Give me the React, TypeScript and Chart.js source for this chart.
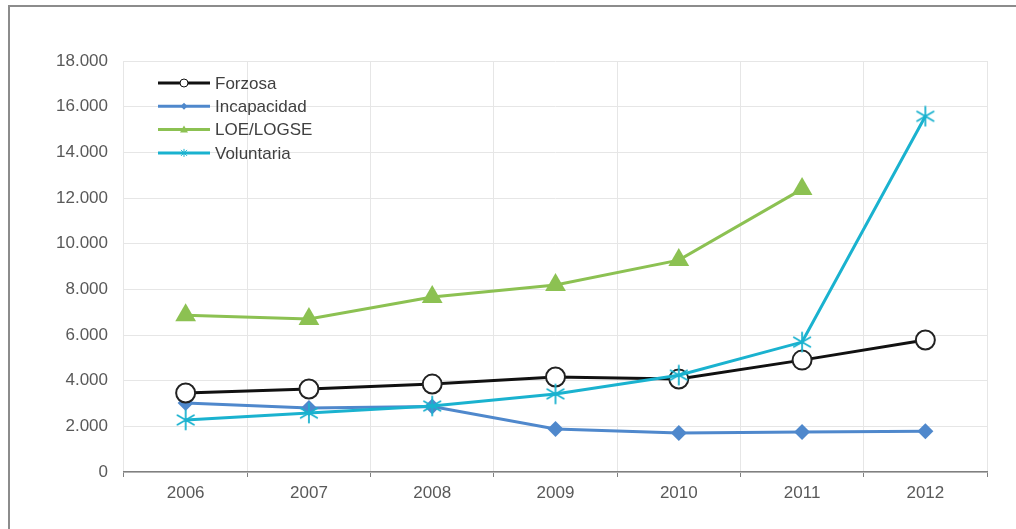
import { useEffect, useRef } from 'react';
import { Chart, registerables } from 'chart.js';

Chart.register(...registerables);

const years = ['2006', '2007', '2008', '2009', '2010', '2011', '2012'];
const forzosa = [3460, 3635, 3850, 4160, 4070, 4900, 5780];
const incapacidad = [3020, 2800, 2870, 1880, 1710, 1750, 1790];
const loeLogse = [6870, 6700, 7660, 8190, 9280, 12390, null];
const voluntaria = [2280, 2580, 2890, 3420, 4240, 5690, 15580];
const seriesNames = ['Forzosa', 'Incapacidad', 'LOE/LOGSE', 'Voluntaria'];
const seriesColors = ['#111111', '#4f88cc', '#8cc152', '#1ab2cf'];
const yMin = 0;
const yMax = 18000;
const yStep = 2000;

const FONT = '"Liberation Sans", Arial, sans-serif';

function makeAsterisk(color: string, size: number, lw: number) {
  const c = document.createElement('canvas');
  c.width = size;
  c.height = size;
  const ctx = c.getContext('2d')!;
  ctx.strokeStyle = color;
  ctx.lineWidth = lw;
  ctx.lineCap = 'round';
  const m = size / 2;
  const r = size / 2 - 1.5;
  ctx.beginPath();
  for (let k = 0; k < 3; k++) {
    const a = Math.PI / 2 + (k * Math.PI) / 3;
    ctx.moveTo(m + r * Math.cos(a), m + r * Math.sin(a));
    ctx.lineTo(m - r * Math.cos(a), m - r * Math.sin(a));
  }
  ctx.stroke();
  return c;
}

const fmt = (v: number) => String(v).replace(/\B(?=(\d{3})+(?!\d))/g, '.');

const legendPlugin = {
  id: 'insideLegend',
  afterDraw(chart: any) {
    const ctx = chart.ctx;
    const area = chart.chartArea;
    const x0 = area.left + 34;
    const x1 = area.left + 86;
    const tx = area.left + 91;
    ctx.save();
    ctx.font = `17px ${FONT}`;
    ctx.textBaseline = 'middle';
    seriesNames.forEach((name, i) => {
      const y = area.top + 22 + i * 23.3;
      const col = seriesColors[i];
      ctx.strokeStyle = col;
      ctx.lineWidth = 3;
      ctx.beginPath();
      ctx.moveTo(x0, y);
      ctx.lineTo(x1, y);
      ctx.stroke();
      const cx = (x0 + x1) / 2;
      ctx.fillStyle = col;
      if (i === 0) {
        ctx.beginPath();
        ctx.arc(cx, y, 4, 0, Math.PI * 2);
        ctx.fillStyle = '#fff';
        ctx.fill();
        ctx.lineWidth = 1;
        ctx.strokeStyle = col;
        ctx.stroke();
      } else if (i === 1) {
        ctx.beginPath();
        ctx.moveTo(cx, y - 3.5);
        ctx.lineTo(cx + 3.5, y);
        ctx.lineTo(cx, y + 3.5);
        ctx.lineTo(cx - 3.5, y);
        ctx.closePath();
        ctx.fill();
      } else if (i === 2) {
        ctx.beginPath();
        ctx.moveTo(cx, y - 4);
        ctx.lineTo(cx + 4, y + 3);
        ctx.lineTo(cx - 4, y + 3);
        ctx.closePath();
        ctx.fill();
      } else {
        ctx.lineWidth = 1;
        ctx.beginPath();
        ctx.moveTo(cx - 3, y - 3);
        ctx.lineTo(cx + 3, y + 3);
        ctx.moveTo(cx - 3, y + 3);
        ctx.lineTo(cx + 3, y - 3);
        ctx.moveTo(cx, y - 4);
        ctx.lineTo(cx, y + 4);
        ctx.stroke();
      }
      ctx.fillStyle = '#404040';
      ctx.fillText(name, tx, y + 1);
    });
    ctx.restore();
  },
};

export default function App() {
  const ref = useRef<HTMLCanvasElement>(null);

  useEffect(() => {
    if (!ref.current) return;
    const star = makeAsterisk(seriesColors[3], 22, 1.8);
    const chart = new Chart(ref.current, {
      type: 'line',
      data: {
        labels: years,
        datasets: [
          {
            label: seriesNames[0],
            data: forzosa,
            borderColor: seriesColors[0],
            borderWidth: 3,
            pointStyle: 'circle',
            pointRadius: 9.5,
            pointBorderWidth: 2,
            pointBackgroundColor: '#ffffff',
            pointBorderColor: '#222222',
            tension: 0,
            order: 2,
          },
          {
            label: seriesNames[1],
            data: incapacidad,
            borderColor: seriesColors[1],
            backgroundColor: seriesColors[1],
            borderWidth: 3,
            pointStyle: 'rectRot',
            pointRadius: 8,
            pointBorderWidth: 0,
            pointBackgroundColor: seriesColors[1],
            tension: 0,
            order: 3,
          },
          {
            label: seriesNames[2],
            data: loeLogse,
            borderColor: seriesColors[2],
            backgroundColor: seriesColors[2],
            borderWidth: 3,
            pointStyle: 'triangle',
            pointRadius: 12,
            pointBorderWidth: 0,
            pointBackgroundColor: seriesColors[2],
            tension: 0,
            spanGaps: false,
            order: 4,
          },
          {
            label: seriesNames[3],
            data: voluntaria,
            borderColor: seriesColors[3],
            backgroundColor: seriesColors[3],
            borderWidth: 3,
            pointStyle: star as any,
            pointRadius: 11,
            tension: 0,
            order: 1,
          },
        ],
      },
      options: {
        animation: false,
        responsive: true,
        maintainAspectRatio: false,
        layout: { padding: { top: 61, right: 29, left: 0, bottom: 0 } },
        plugins: {
          legend: { display: false },
          tooltip: { enabled: false },
          title: { display: false },
        },
        scales: {
          x: {
            offset: true,
            grid: {
              offset: true,
              color: '#e6e6e6',
              lineWidth: 1,
              drawTicks: true,
              tickLength: 5,
              tickColor: '#808080',
            },
            border: { display: true, color: '#808080', width: 1.5 },
            ticks: {
              color: '#595959',
              font: { family: FONT, size: 17 },
              padding: 6,
            },
            afterFit: (s: any) => {
              s.height = 57;
            },
          },
          y: {
            min: yMin,
            max: yMax,
            ticks: {
              stepSize: yStep,
              color: '#595959',
              font: { family: FONT, size: 17 },
              padding: 16,
              callback: (v: any) => fmt(Number(v)),
            },
            grid: { color: '#e6e6e6', lineWidth: 1, drawTicks: false },
            border: { display: false },
            afterFit: (s: any) => {
              s.width = 124;
            },
          },
        },
      },
      plugins: [legendPlugin],
    });
    return () => chart.destroy();
  }, []);

  return (
    <div
      style={{
        position: 'fixed',
        left: 0,
        top: 0,
        width: 1016,
        height: 529,
        background: '#ffffff',
        overflow: 'hidden',
      }}
    >
      <canvas ref={ref} />
      <div
        style={{
          position: 'absolute',
          left: 8,
          top: 5,
          width: 1100,
          height: 600,
          borderTop: '2px solid #8c8c8c',
          borderLeft: '2px solid #8c8c8c',
          pointerEvents: 'none',
        }}
      />
    </div>
  );
}
